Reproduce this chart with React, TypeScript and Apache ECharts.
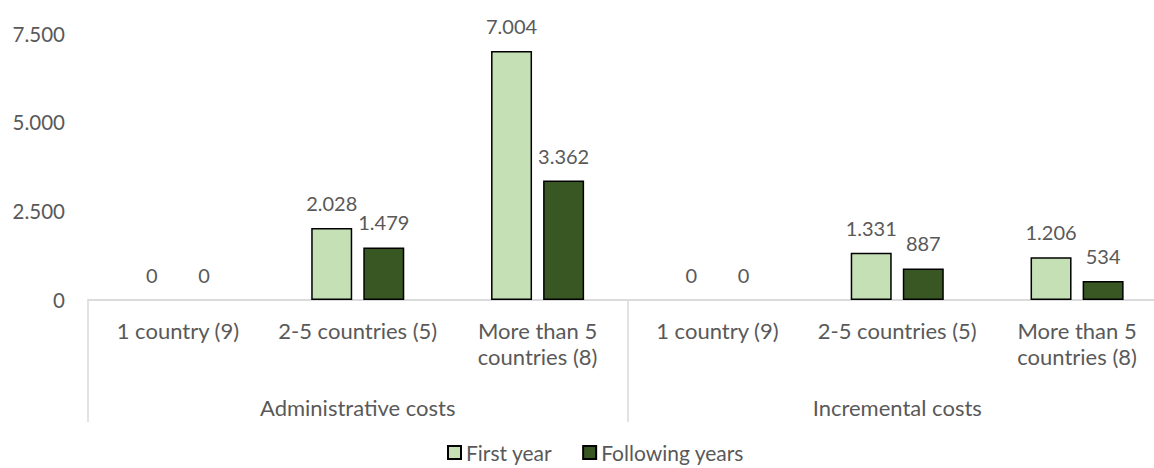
import React, { useEffect, useRef } from "react";
import * as echarts from "echarts";

const groups = ["Administrative costs", "Incremental costs"];
const subCategories = ["1 country (9)", "2-5 countries (5)", "More than 5\ncountries (8)"];
const categories = groups.flatMap((g) => subCategories.map((s) => `${g}|${s}`));
const firstYear = [0, 2028, 7004, 0, 1331, 1206];
const followingYears = [0, 1479, 3362, 0, 887, 534];
const yTicks = { min: 0, max: 7500, interval: 2500 };

const fmt = (v: number) => String(v).replace(/\B(?=(\d{3})+(?!\d))/g, ".");

const FONT = "Lato";
const TEXT = "#595959";
const AXIS = "#d9d9d9";

export default function App() {
  const ref = useRef<HTMLDivElement>(null);
  useEffect(() => {
    if (!ref.current) return;
    const chart = echarts.init(ref.current, undefined, { renderer: "svg" });
    const label = {
      show: true,
      position: "top",
      distance: 15,
      color: TEXT,
      fontFamily: FONT,
      fontSize: 20,
      formatter: (p: any) => fmt(p.value),
    };
    const toItems = (arr: number[]) =>
      arr.map((v) => ({ value: v, itemStyle: { borderWidth: v === 0 ? 0 : 1.5 } }));
    chart.setOption({
      animation: false,
      textStyle: { fontFamily: FONT },
      grid: { left: 88, right: 0, top: 33.5, bottom: 168, containLabel: false },
      legend: {
        left: 447,
        top: 442,
        padding: 0,
        icon: "rect",
        itemWidth: 13,
        itemHeight: 13,
        itemGap: 30,
        textStyle: { color: TEXT, fontFamily: FONT, fontSize: 21, lineHeight: 20 },
        data: ["First year", "Following years"],
      },
      xAxis: [
        {
          type: "category",
          data: categories,
          axisLine: { show: true, lineStyle: { color: AXIS, width: 1.5 } },
          axisTick: { show: false },
          axisLabel: {
            interval: 0,
            margin: 17,
            color: TEXT,
            fontFamily: FONT,
            fontSize: 22,
            lineHeight: 26,
            formatter: (v: string) => v.split("|")[1],
          },
        },
        {
          type: "category",
          position: "bottom",
          data: groups,
          axisLine: { show: true, lineStyle: { color: AXIS, width: 1.5 } },
          axisTick: { show: true, length: 122, lineStyle: { color: AXIS, width: 1.5 } },
          axisLabel: {
            interval: 0,
            margin: 94,
            color: TEXT,
            fontFamily: FONT,
            fontSize: 22,
            lineHeight: 26,
          },
        },
      ],
      yAxis: {
        type: "value",
        min: yTicks.min,
        max: yTicks.max,
        interval: yTicks.interval,
        axisLine: { show: false },
        axisTick: { show: false },
        splitLine: { show: false },
        axisLabel: {
          margin: 23,
          color: TEXT,
          fontFamily: FONT,
          fontSize: 20.5,
          formatter: (v: number) => fmt(v),
        },
      },
      series: [
        {
          name: "First year",
          type: "bar",
          xAxisIndex: 0,
          data: toItems(firstYear),
          barWidth: 41,
          barGap: "27%",
          itemStyle: { color: "#c5e0b4", borderColor: "#000", borderWidth: 1.5 },
          label,
        },
        {
          name: "Following years",
          type: "bar",
          xAxisIndex: 0,
          data: toItems(followingYears),
          barWidth: 41,
          barGap: "27%",
          itemStyle: { color: "#385723", borderColor: "#000", borderWidth: 1.5 },
          label,
        },
      ],
    });
    return () => chart.dispose();
  }, []);
  return (
    <div
      style={{
        position: "absolute",
        left: 0,
        top: 0,
        width: 1154,
        height: 468,
        overflow: "hidden",
        background: "#fff",
      }}
    >
      <div ref={ref} style={{ width: 1167, height: 468 }} />
    </div>
  );
}
